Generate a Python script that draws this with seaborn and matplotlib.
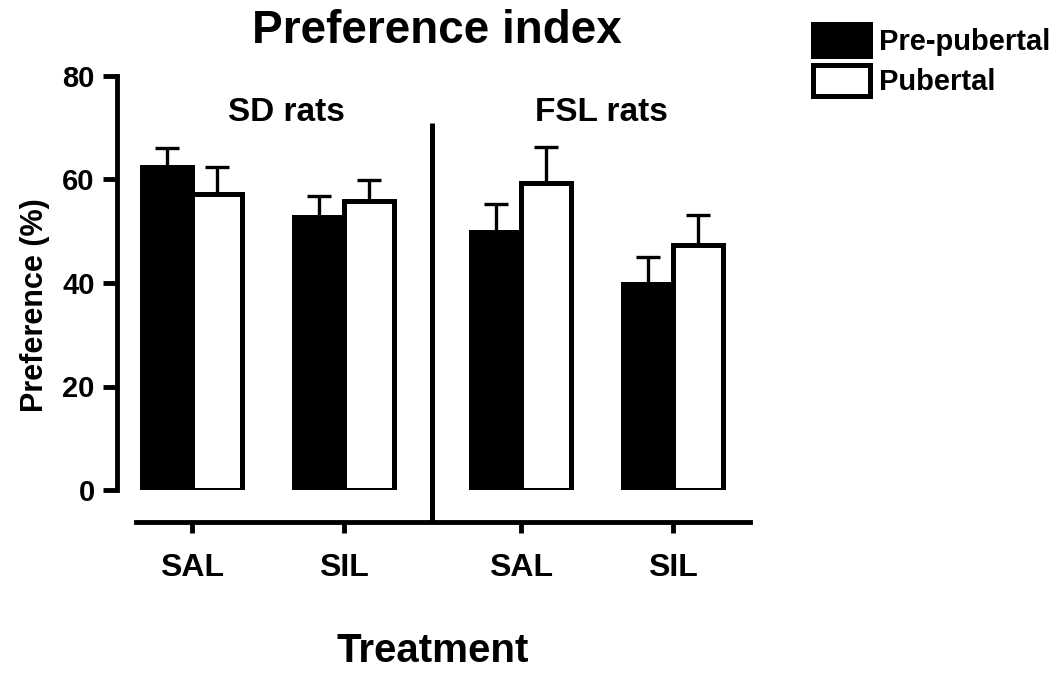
import numpy as np
import pandas as pd
import matplotlib
matplotlib.use("Agg")
import matplotlib.pyplot as plt
from matplotlib.patches import Patch
import seaborn as sns

# ─────────────────────────────────────────────
# Data
# ─────────────────────────────────────────────
strains = ["SD rats", "FSL rats"]
treatments = ["SAL", "SIL", "SAL", "SIL"]
ages = ["Pre-pubertal", "Pubertal"]
pre_mean = [62.5, 52.8, 49.9, 39.9]
pre_sem = [3.5, 4.1, 5.4, 5.1]
pub_mean = [57.2, 55.9, 59.4, 47.4]
pub_sem = [5.2, 4.0, 6.9, 5.7]
yticks = [0, 20, 40, 60, 80]

# layout: x slot of each treatment group (gap between the two strains)
slots = [0.0, 1.0, 2.17, 3.17]

sns.set_theme(style="white")
plt.rcParams["font.family"] = ["Liberation Sans", "DejaVu Sans"]
plt.rcParams["font.weight"] = "bold"
for key in ["text.color", "axes.labelcolor", "xtick.color", "ytick.color", "axes.edgecolor"]:
    plt.rcParams[key] = "black"

df = pd.DataFrame({
    "slot": slots * 2,
    "age": [ages[0]] * 4 + [ages[1]] * 4,
    "pref": pre_mean + pub_mean,
    "sem": pre_sem + pub_sem,
})

fig = plt.figure(figsize=(10.56, 6.73), dpi=100)
ax = fig.add_axes([117 / 1056, 1 - 490 / 673, 633 / 1056, 414 / 673])

sns.barplot(data=df, x="slot", y="pref", hue="age", hue_order=ages,
            palette={"Pre-pubertal": "black", "Pubertal": "white"},
            native_scale=True, width=0.66, errorbar=None, legend=False,
            edgecolor="black", linewidth=3.6, ax=ax)

# one-sided (upper) SEM bars
for cont, age in zip(ax.containers, ages):
    sub = df[df["age"] == age]
    xs = [p.get_x() + p.get_width() / 2 for p in cont.patches]
    ys = [p.get_height() for p in cont.patches]
    ax.errorbar(xs, ys, yerr=[np.zeros(len(ys)), sub["sem"].values], fmt="none",
                ecolor="black", elinewidth=2.4, capsize=8.6, capthick=2.4, zorder=0.5)

ax.set_ylim(0, 80)
ax.set_xlim(-0.495, 3.68)
ax.set_yticks(yticks, labels=[str(t) for t in yticks])
ax.set_xticks(slots, labels=treatments)

for s in ["top", "right"]:
    ax.spines[s].set_visible(False)
ax.spines["left"].set_linewidth(3.5)
ax.spines["bottom"].set_linewidth(3.5)
ax.spines["bottom"].set_position(("outward", 23))
ax.spines["bottom"].set_bounds(-0.37, 3.68)
ax.tick_params(axis="y", direction="out", length=10, width=3.5, pad=6, left=True,
               labelsize=21, colors="black")
ax.tick_params(axis="x", direction="out", length=8, width=3.5, pad=14, bottom=True,
               labelsize=23, colors="black")
for lab in ax.get_xticklabels() + ax.get_yticklabels():
    lab.set_fontweight("bold")

# divider between strains
mid = (slots[1] + slots[2]) / 2
ax.plot([mid, mid], [-6.2, 70.9], color="black", lw=3.6, clip_on=False,
        solid_capstyle="butt")

# strain labels
ax.text(0.268, 0.911, strains[0], transform=ax.transAxes, ha="center",
        va="center", fontsize=24, fontweight="bold")
ax.text(0.765, 0.911, strains[1], transform=ax.transAxes, ha="center",
        va="center", fontsize=24, fontweight="bold")

ax.set_ylabel("Preference (%)", fontsize=22, fontweight="bold")
ax.yaxis.set_label_coords(-0.13, 0.447)
ax.yaxis.label.set_va("center")
ax.set_xlabel("Treatment", fontsize=29, fontweight="bold")
ax.xaxis.set_label_coords(0.498, -0.388)
ax.xaxis.label.set_va("center")

fig.text(437 / 1056, 1 - 31 / 673, "Preference index", ha="center", va="center",
         fontsize=33, fontweight="bold")

handles = [Patch(facecolor="black", edgecolor="black", linewidth=3.6, label=ages[0]),
           Patch(facecolor="white", edgecolor="black", linewidth=3.6, label=ages[1])]
fig.legend(handles=handles, loc="upper left", bbox_to_anchor=(813 / 1056, 1 - 24 / 673),
           frameon=False, borderpad=0, borderaxespad=0, handlelength=1.95,
           handleheight=1.3, labelspacing=0.3, handletextpad=0.3,
           prop={"size": 21, "weight": "bold"})

fig.savefig("out.png", dpi=100)
